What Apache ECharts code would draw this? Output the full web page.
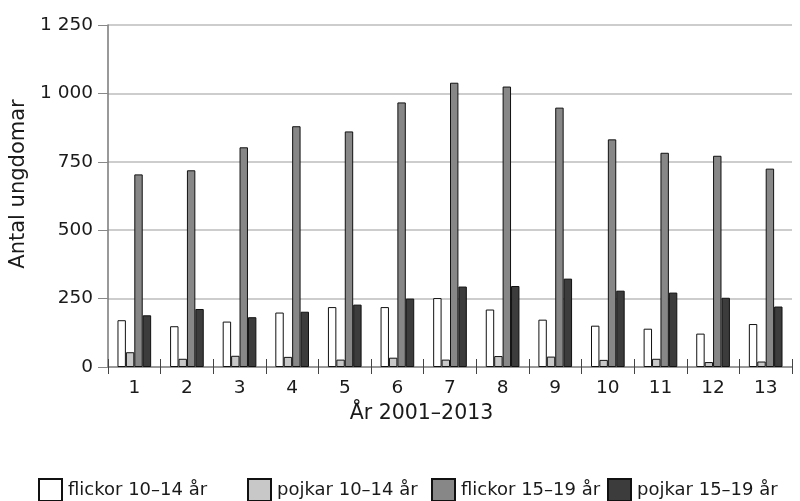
<!DOCTYPE html>
<html><head><meta charset="utf-8">
<script src="https://cdn.jsdelivr.net/npm/echarts@6/dist/echarts.min.js"></script>
<style>html,body{margin:0;padding:0;background:#fff}#c{width:800px;height:501px}</style>
</head><body><div id="c"></div>
<script>
var categories = ['1','2','3','4','5','6','7','8','9','10','11','12','13'];
var flickor1014 = [171,149,166,199,219,219,252,210,173,151,140,122,157];
var pojkar1014  = [54,30,41,37,27,34,27,40,38,26,30,18,20];
var flickor1519 = [704,719,803,880,861,967,1039,1025,948,832,783,772,725];
var pojkar1519  = [189,212,182,202,228,250,294,296,323,279,272,253,221];
var seriesNames = ['flickor 10–14 år','pojkar 10–14 år','flickor 15–19 år','pojkar 15–19 år'];
var yTicks = [0,250,500,750,1000,1250];

var FONT = 'DejaVu Sans';
var colors = ['#ffffff','#c8c8c8','#878787','#3c3c3c'];
var data = [flickor1014, pojkar1014, flickor1519, pojkar1519];
var chart = echarts.init(document.getElementById('c'), null, {renderer:'canvas'});
var legendLeft = [38, 247, 431, 607];
var option = {
  animation:false,
  backgroundColor:'#fff',
  textStyle:{fontFamily:FONT},
  grid:{left:108,right:8,top:25,bottom:134,containLabel:false},
  xAxis:[{
    type:'category', data:categories, position:'bottom',
    axisLine:{show:true,lineStyle:{color:'#888',width:1.5}},
    axisTick:{show:true,length:7,lineStyle:{color:'#444',width:1}},
    axisLabel:{fontSize:18.5,color:'#1a1a1a',margin:12,fontFamily:FONT},
    name:'År 2001–2013', nameLocation:'middle', nameGap:36,
    nameTextStyle:{fontSize:20.5,color:'#1a1a1a',fontFamily:FONT,padding:[0,57,0,0]}
  },{
    type:'category', data:categories, position:'bottom',
    axisLine:{show:false},
    axisTick:{show:true,inside:true,length:8,lineStyle:{color:'#444',width:1}},
    axisLabel:{show:false}
  }],
  yAxis:{
    type:'value', min:0, max:1250, interval:250,
    axisLine:{show:true,lineStyle:{color:'#777',width:1.5}},
    axisTick:{show:true,length:10,lineStyle:{color:'#888'}},
    axisLabel:{fontSize:18.5,color:'#1a1a1a',margin:15,fontFamily:FONT,
      formatter:function(v){return String(v).replace(/\B(?=(\d{3})+(?!\d))/g,' ');}},
    splitLine:{show:true,lineStyle:{color:'#bdbdbd',width:1.5}},
    name:'Antal ungdomar', nameLocation:'middle', nameGap:71, nameRotate:90,
    nameTextStyle:{fontSize:21,color:'#1a1a1a',fontFamily:FONT,padding:[0,0,0,24]}
  },
  legend: seriesNames.map(function(n,i){
    return {data:[n], left:legendLeft[i], top:478, padding:0, itemWidth:23, itemHeight:22, itemGap:5,
      icon:'rect', textStyle:{fontSize:18,color:'#1a1a1a',fontFamily:FONT,padding:[0,0,0,1]}};
  }),
  series: seriesNames.map(function(n,i){
    return {name:n, type:'bar', data:data[i], barGap:'0%', barCategoryGap:'36%',
      itemStyle:{color:colors[i], borderColor:'#111', borderWidth:1}};
  })
};
chart.setOption(option);
</script></body></html>
